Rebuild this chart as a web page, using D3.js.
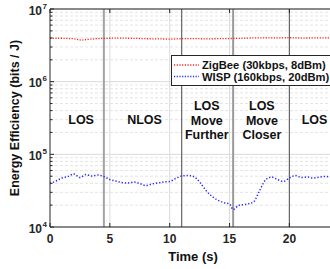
<!DOCTYPE html>
<html>
<head>
<meta charset="utf-8">
<script src="https://cdn.jsdelivr.net/npm/d3@7"></script>
<style>
  body { margin: 0; background: #fff; }
  svg { display: block; font-family: "Liberation Sans", Arial, sans-serif; font-weight: bold; }
</style>
</head>
<body>
<svg id="chart" width="330" height="269"></svg>
<script>
// ---- data ----
const wispTime = [0, 0.5, 1, 1.5, 2, 2.5, 3, 3.5, 4, 4.5, 5, 5.5, 6, 6.5, 7, 7.5, 8, 8.5, 9, 9.5,
    10, 10.5, 11, 11.5, 12, 12.5, 13, 13.5, 14, 14.5, 15, 15.3, 15.75, 16.5, 17, 17.5, 18, 18.5, 19, 19.5,
    20, 20.5, 21, 21.5, 22, 22.5, 23, 23.5, 24, 25]
const wispValue = [39600, 42900, 47200, 49500, 53600, 48000, 52700, 50300, 51900, 49500,
    45000, 42900, 40900, 40300, 41600, 39600, 37200, 39000, 40300, 41600,
    42300, 46500, 50300, 51100, 49500, 41600, 32300, 26700, 23500, 21700,
    20700, 17400, 19800, 20700, 22100, 31300, 44300, 48700, 45000, 42300,
    47200, 51100, 48000, 48700, 47200, 48700, 49500, 48700, 49500, 48700]

const zigbeeTime = [0, 1, 2, 2.6, 3.2, 4, 5, 6, 7, 8, 9, 10, 11, 12, 13, 14, 15, 16, 17, 18, 19, 20, 21, 22, 23, 24, 25]
const zigbeeValue = [3.95e6, 3.96e6, 3.9e6, 3.72e6, 3.82e6, 3.92e6, 3.96e6, 3.97e6, 3.95e6, 3.9e6, 3.88e6,
    3.85e6, 3.9e6, 3.92e6, 3.88e6, 3.9e6, 3.92e6, 3.95e6, 4.0e6, 4.02e6, 4.0e6, 4.03e6, 3.98e6, 4.0e6, 4.0e6, 4.0e6, 4.0e6]

const xTicks = [0, 5, 10, 15, 20]
const yTicks = [1e4, 1e5, 1e6, 1e7]
const yExponents = ["4", "5", "6", "7"]

// event boundaries (s) and region labels
const eventTimes = [4.5, 11, 15.3, 20]
const eventStyle = [["#a3a3a3", 2], ["#666", 1.2], ["#9a9a9a", 2], ["#666", 1.2]]
const regionTime = [2.6, 7.9, 13.1, 17.7, 22.1]
const regionLines = [["LOS"], ["NLOS"], ["LOS", "Move", "Further"], ["LOS", "Move", "Closer"], ["LOS"]]

const seriesNames = ["ZigBee (30kbps, 8dBm)", "WISP (160kbps, 20dBm)"]
const seriesColors = ["#ff2020", "#2a2aff"]

// ---- layout ----
const svg = d3.select("#chart")
const mLeft = 50, mTop = 9, mBottom = 227

const x = d3.scaleLinear().domain([0, 25]).range([mLeft, mLeft + 25 * 11.97])
const y = d3.scaleLog().domain([1e4, 1e7]).range([mBottom, mTop])
const mRight = x(25)

// grid
let minor = []
for (let d = 4; d < 7; d++) {
    for (let m = 2; m <= 9; m++) minor.push(m * Math.pow(10, d))
}
const grid = svg.append("g")
grid.selectAll(".minor").data(minor).join("line")
    .attr("x1", mLeft).attr("x2", mRight)
    .attr("y1", d => y(d)).attr("y2", d => y(d))
    .attr("stroke", "#e4e4e4").attr("stroke-dasharray", "3,2")
grid.selectAll(".major").data(yTicks).join("line")
    .attr("x1", mLeft).attr("x2", mRight)
    .attr("y1", d => y(d)).attr("y2", d => y(d))
    .attr("stroke", "#dadada")
grid.selectAll(".vgrid").data(xTicks.slice(1)).join("line")
    .attr("x1", d => x(d)).attr("x2", d => x(d))
    .attr("y1", mTop).attr("y2", mBottom)
    .attr("stroke", "#dadada")

// event lines
svg.append("g").selectAll("line").data(eventTimes).join("line")
    .attr("x1", d => x(d)).attr("x2", d => x(d))
    .attr("y1", mTop).attr("y2", mBottom)
    .attr("stroke", (d, i) => eventStyle[i][0])
    .attr("stroke-width", (d, i) => eventStyle[i][1])

// series
const line = d3.line().x(d => x(d[0])).y(d => y(d[1]))
svg.append("path")
    .datum(d3.zip(zigbeeTime, zigbeeValue))
    .attr("d", line).attr("fill", "none")
    .attr("stroke", seriesColors[0]).attr("stroke-width", 1.3)
    .attr("stroke-dasharray", "1.2,1.5")
svg.append("path")
    .datum(d3.zip(wispTime, wispValue))
    .attr("d", line.curve(d3.curveMonotoneX)).attr("fill", "none")
    .attr("stroke", seriesColors[1]).attr("stroke-width", 1.5)
    .attr("stroke-dasharray", "1.3,1.9")

// region labels
const labels = svg.append("g").attr("font-size", 12.5).attr("text-anchor", "middle").attr("fill", "#111")
regionLines.forEach(function(lines, i) {
    const t = labels.append("text").attr("x", x(regionTime[i]))
    const y0 = lines.length === 1 ? 124 : 110
    lines.forEach(function(s, j) {
        t.append("tspan").attr("x", x(regionTime[i])).attr("y", y0 + j * 14.5).text(s)
    })
})

// axes box
svg.append("line").attr("x1", mLeft).attr("x2", mRight).attr("y1", mTop).attr("y2", mTop).attr("stroke", "#262626")
svg.append("line").attr("x1", mLeft).attr("x2", mRight).attr("y1", mBottom).attr("y2", mBottom).attr("stroke", "#262626")
svg.append("line").attr("x1", mLeft).attr("x2", mLeft).attr("y1", mTop).attr("y2", mBottom).attr("stroke", "#262626")

// ticks (inward)
svg.append("g").selectAll("line").data(minor).join("line")
    .attr("x1", mLeft).attr("x2", mLeft + 2.5)
    .attr("y1", d => y(d)).attr("y2", d => y(d)).attr("stroke", "#262626")
svg.append("g").selectAll("line").data(yTicks).join("line")
    .attr("x1", mLeft).attr("x2", mLeft + 4)
    .attr("y1", d => y(d)).attr("y2", d => y(d)).attr("stroke", "#262626")
svg.append("g").selectAll("line").data(xTicks).join("line")
    .attr("x1", d => x(d)).attr("x2", d => x(d))
    .attr("y1", mBottom).attr("y2", mBottom - 4).attr("stroke", "#262626")
svg.append("g").selectAll("line").data(xTicks).join("line")
    .attr("x1", d => x(d)).attr("x2", d => x(d))
    .attr("y1", mTop).attr("y2", mTop + 4).attr("stroke", "#262626")

// tick labels
svg.append("g").selectAll("text").data(xTicks).join("text")
    .attr("x", d => x(d)).attr("y", 243)
    .attr("text-anchor", "middle").attr("font-size", 12).attr("fill", "#262626")
    .text(d => d)
const yl = svg.append("g").selectAll("g").data(yTicks).join("g")
    .attr("transform", d => `translate(0,${y(d)})`)
yl.append("text").attr("x", 42).attr("y", 5.5).attr("text-anchor", "end")
    .attr("font-size", 12).attr("fill", "#262626").text("10")
yl.append("text").attr("x", 42.5).attr("y", -0.5)
    .attr("font-size", 8).attr("fill", "#262626").text((d, i) => yExponents[i])

// axis titles
svg.append("text").attr("x", 193).attr("y", 261).attr("text-anchor", "middle")
    .attr("font-size", 13).attr("fill", "#111").text("Time (s)")
svg.append("text").attr("transform", "translate(19,118) rotate(-90)")
    .attr("text-anchor", "middle").attr("font-size", 12.5).attr("fill", "#111")
    .text("Energy Efficiency (bits / J)")

// legend
const lg = svg.append("g")
lg.append("rect").attr("x", 171.5).attr("y", 55.5).attr("width", 165).attr("height", 30)
    .attr("fill", "#fff").attr("stroke", "#262626")
seriesNames.forEach(function(name, i) {
    const ly = 65 + i * 11.5
    lg.append("line").attr("x1", 174).attr("x2", 199).attr("y1", ly).attr("y2", ly)
        .attr("stroke", seriesColors[i]).attr("stroke-width", 1.3).attr("stroke-dasharray", "1.2,1.5")
    lg.append("text").attr("x", 202).attr("y", ly + 4).attr("font-size", 11.2).attr("fill", "#111").text(name)
})
</script>
</body>
</html>
